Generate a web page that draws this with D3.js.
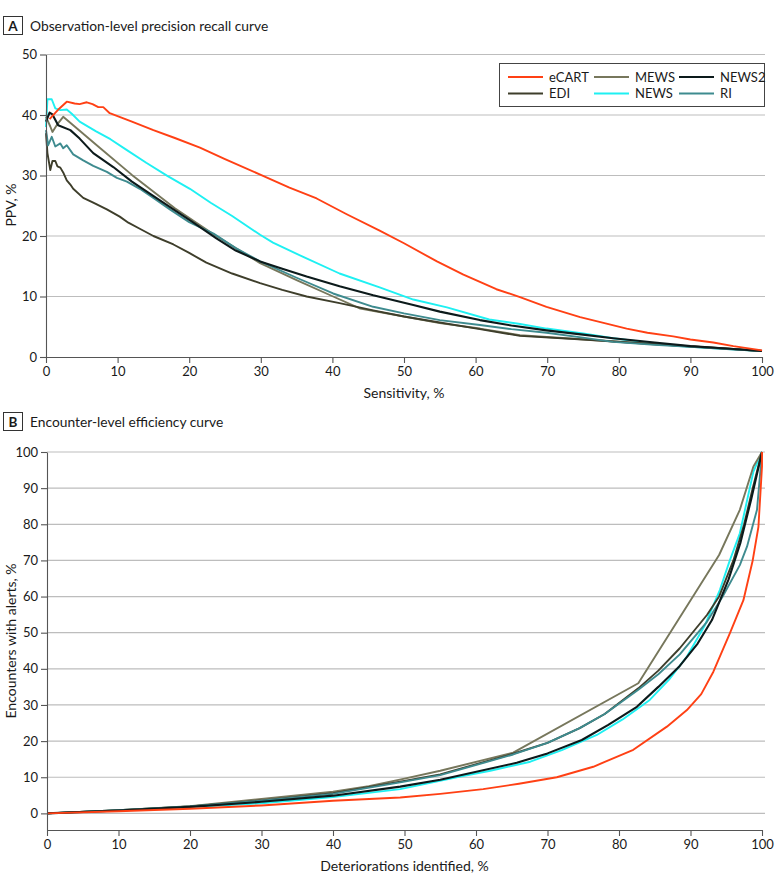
<!DOCTYPE html>
<html>
<head>
<meta charset="utf-8">
<script src="https://d3js.org/d3.v7.min.js"></script>
<style>
  body { margin: 0; background: #fff; }
  svg text { font-family: Lato, "Open Sans", sans-serif; fill: #1a1a1a; }
</style>
</head>
<body>
<div id="chart"></div>
<script>
// Series names, legend order (column-major: eCART/EDI, MEWS/NEWS, NEWS2/RI)
const seriesNames = ['eCART', 'EDI', 'MEWS', 'NEWS', 'NEWS2', 'RI'];
const seriesColors = ['#ff4014', '#3e3e2b', '#77775c', '#1ef0f2', '#0c1a1b', '#3e8b8f'];

// Panel A: [sensitivity %, PPV %]
const ecartA = [[0.5,39.3],[1.8,41],[2.9,42.2],[4,41.9],[4.7,41.8],[5.7,42.1],[6.5,41.8],[7.3,41.3],[8,41.3],[8.9,40.3],
  [12,38.9],[15,37.5],[18,36.2],[21.5,34.6],[25,32.7],[30,30.1],[34,28],[37.8,26.2],[42,23.6],[46.6,20.9],[50,18.8],
  [54.6,15.8],[58.3,13.6],[62.9,11.2],[66.2,9.9],[69.9,8.3],[74.6,6.6],[78,5.6],[81.1,4.7],[84,4],[87.6,3.4],[90,2.9],
  [93.2,2.4],[96,1.8],[100,1.1]];
const ediA = [[0,37],[0.2,33.7],[0.6,30.9],[0.9,32.4],[1.3,32.4],[1.6,31.5],[2,31.3],[2.4,30.5],[2.9,29.2],[3.4,28.5],
  [3.8,27.8],[5.2,26.3],[6.6,25.5],[8.5,24.4],[10.3,23.2],[11.5,22.2],[13.1,21.2],[15,20],[17.8,18.6],[20,17.2],
  [22.4,15.6],[26,13.8],[29.9,12.2],[33,11.1],[36.4,10],[41,8.9],[45.7,7.7],[50,6.7],[55,5.7],[60.6,4.6],[66.2,3.5],
  [75,2.9],[85,2.1],[95,1.4],[100,1.0]];
const mewsA = [[0,39.7],[0.6,38.1],[0.9,37.2],[1.6,38.5],[2.4,39.7],[7.5,34.6],[12,30.1],[18,24.6],[23.4,20.3],
  [29.9,15.5],[35,12.7],[40.1,10],[43.9,8],[50,6.7],[55,5.6],[60.6,4.7],[66.2,3.6],[100,1.0]];
const newsA = [[0,38],[0.2,42.6],[0.8,42.6],[1.3,41.1],[2,40.8],[2.9,40.9],[3.6,40.2],[4.7,38.9],[7,37.3],[9,36],
  [11.3,34.2],[14,32.1],[17,29.9],[20.1,27.8],[23,25.5],[26,23.3],[29.9,20.2],[31.7,18.9],[36,16.5],[41,13.8],
  [46.6,11.5],[51.3,9.5],[56,8.2],[61.9,6.2],[66,5.5],[69.9,4.7],[75,3.9],[79.2,3.1],[84,2.4],[88.5,1.8],[94,1.4],[100,1.0]];
const news2A = [[0,38.9],[0.5,40.4],[0.9,40.1],[1.7,38.3],[3.4,37.5],[4.7,36.1],[6.6,33.7],[9.4,31.4],[12,29],[14.5,27],
  [17.8,24.4],[20.5,22.3],[23.8,19.6],[26.5,17.6],[29.9,15.8],[33,14.6],[36.4,13.3],[41,11.7],[45.7,10.2],[51.3,8.6],
  [55,7.5],[60.6,6.1],[65,5.2],[69.9,4.4],[75,3.7],[79.2,3.1],[85,2.4],[90,1.8],[95,1.4],[100,1.0]];
const riA = [[0,37.5],[0.3,35],[0.8,36.4],[1.3,34.8],[2,35.3],[2.4,34.5],[2.9,35],[3.8,33.5],[5.2,32.5],[6.6,31.6],
  [8.5,30.6],[9.9,29.6],[11.3,29],[13.1,27.8],[15,26.3],[17.3,24.4],[20,22.3],[23.4,20.4],[26.5,18],[29.9,15.8],
  [35,13.1],[40.1,10.5],[45.7,8.3],[50,7.2],[55,6.1],[60.6,5.3],[65,4.6],[69.9,4.0],[75,3.2],[79.2,2.5],[85,2.0],
  [90,1.7],[95,1.3],[100,1.0]];

// Panel B: [deteriorations identified %, encounters with alerts %]
const ecartB = [[0,0],[10,0.6],[20,1.3],[30,2.2],[40,3.5],[49.4,4.4],[55,5.4],[61,6.7],[66,8.2],[71.3,10],[76.4,12.9],
  [82,17.6],[86.7,24],[89.5,28.6],[91.5,33],[93.2,39.2],[95.5,49.8],[97.4,59],[98.7,70],[99.5,79.3],[100,96],[100,100]];
const ediB = [[0,0],[10,0.9],[20,1.9],[30,3.6],[40,5.6],[50,9],[55,10.8],[65.2,16.5],[70,19.5],[74.5,23.6],[78,27.5],
  [82.7,34.6],[85.5,39.5],[88.5,45.7],[92.3,54.9],[94,60],[96,70],[97.5,80],[98.7,90],[100,100]];
const mewsB = [[0,0],[10,0.9],[20,2],[30,4],[40,6],[45,7.5],[50,9.6],[55,11.8],[65.2,16.8],[82.7,36],[94,71.5],
  [96.9,84],[98.8,96],[100,100]];
const newsB = [[0,0],[10,0.8],[20,1.7],[30,2.8],[40,4.5],[49.4,6.7],[57.8,10.2],[62,11.8],[67.6,14.3],[72,17.5],
  [76.9,21.7],[80.5,26],[84.3,31.4],[87,37],[89.5,43.4],[92,52],[94.1,61.8],[95.5,70],[96.9,77.5],[98.8,94.6],[100,100]];
const news2B = [[0,0],[10,0.8],[20,1.8],[30,3.2],[40,4.9],[49.4,7.4],[55,9.3],[65.7,14],[70,16.6],[74.8,20.3],
  [78.5,24.5],[82.5,29.5],[85.5,35],[88.5,40.8],[91,47],[93,53.5],[95.3,64.6],[97,75],[98.5,87],[100,100]];
const riB = [[0,0],[10,0.9],[20,1.9],[30,3.5],[40,5.4],[50,8.8],[55,10.6],[65.2,16.3],[70,19.5],[74.5,23.6],[78,27.5],
  [82.7,34.2],[85.5,38.5],[88.5,44],[92.3,53],[94.5,60],[96.9,68.7],[97.9,73.8],[99.3,84],[100,100]];

const xTicks = [0, 10, 20, 30, 40, 50, 60, 70, 80, 90, 100];
const yTicksA = [0, 10, 20, 30, 40, 50];
const yTicksB = [0, 10, 20, 30, 40, 50, 60, 70, 80, 90, 100];

const seriesA = { eCART: ecartA, EDI: ediA, MEWS: mewsA, NEWS: newsA, NEWS2: news2A, RI: riA };
const seriesB = { eCART: ecartB, EDI: ediB, MEWS: mewsB, NEWS: newsB, NEWS2: news2B, RI: riB };
const drawOrder = ['NEWS', 'MEWS', 'EDI', 'RI', 'NEWS2', 'eCART'];

const color = d3.scaleOrdinal().domain(seriesNames).range(seriesColors);

const width = 780, height = 890;
const svg = d3.select('#chart').append('svg')
  .attr('width', width)
  .attr('height', height);

const panelHeader = (y, letter, title) => {
  svg.append('rect')
    .attr('x', 3.5).attr('y', y - 14.5)
    .attr('width', 19).attr('height', 18)
    .attr('fill', 'none').attr('stroke', '#333').attr('stroke-width', 1);
  svg.append('text')
    .attr('x', 13).attr('y', y)
    .attr('text-anchor', 'middle')
    .attr('font-size', '13.5px').attr('font-weight', 'bold')
    .text(letter);
  svg.append('text')
    .attr('x', 30).attr('y', y)
    .attr('font-size', '13.8px')
    .text(title);
};

const drawPanel = (opts) => {
  const { x, y, yTicks, data, gridFrom, yLabel, xLabel, yLabelY, xAxisY, gridRight } = opts;

  // gridlines
  svg.append('g')
    .selectAll('line')
    .data(yTicks.filter(t => t >= gridFrom))
    .enter()
    .append('line')
    .attr('x1', x(0)).attr('x2', gridRight)
    .attr('y1', d => y(d)).attr('y2', d => y(d))
    .attr('stroke', '#bdbdbd').attr('stroke-width', 1.2);

  // curves
  const line = d3.line().x(d => x(d[0])).y(d => y(d[1]));
  svg.append('g')
    .selectAll('path')
    .data(drawOrder)
    .enter()
    .append('path')
    .attr('d', k => line(data[k]))
    .attr('fill', 'none')
    .attr('stroke', k => color(k))
    .attr('stroke-width', k => k === 'NEWS2' ? 2.1 : 1.9)
    .attr('stroke-linejoin', 'round');

  // axes
  const yAxis = svg.append('g')
    .attr('transform', `translate(${x(0)},0)`)
    .call(d3.axisLeft(y).tickValues(yTicks).tickSize(6).tickSizeOuter(0).tickPadding(3));
  const xAxis = svg.append('g')
    .attr('transform', `translate(0,${xAxisY})`)
    .call(d3.axisBottom(x).tickValues(xTicks).tickSize(6).tickSizeOuter(0).tickPadding(4));
  [yAxis, xAxis].forEach(a => {
    a.selectAll('path,line').attr('stroke', '#555').attr('stroke-width', 1.1);
    a.selectAll('text').attr('font-size', '13px').attr('fill', '#1a1a1a')
      .style('font-family', 'Lato, sans-serif');
  });

  svg.append('text')
    .attr('transform', `translate(16,${yLabelY}) rotate(-90)`)
    .attr('text-anchor', 'middle')
    .attr('font-size', '14px')
    .text(yLabel);
  svg.append('text')
    .attr('x', (x(0) + x(100)) / 2).attr('y', xAxisY + 41)
    .attr('text-anchor', 'middle')
    .attr('font-size', '14px')
    .text(xLabel);
};

// Panel A
panelHeader(31, 'A', 'Observation-level precision recall curve');
const xA = d3.scaleLinear().domain([0, 100]).range([46, 762]);
const yA = d3.scaleLinear().domain([0, 50]).range([357, 54.5]);
drawPanel({
  x: xA, y: yA, yTicks: yTicksA, data: seriesA, gridFrom: 10,
  yLabel: 'PPV, %', xLabel: 'Sensitivity, %', yLabelY: 205, xAxisY: 357, gridRight: 765
});

// Legend
const legend = svg.append('g').attr('transform', 'translate(499.5,63.5)');
legend.append('rect')
  .attr('width', 265).attr('height', 43)
  .attr('fill', '#fff').attr('stroke', '#444').attr('stroke-width', 1);
const legendItems = legend.selectAll('.legend-item')
  .data(seriesNames)
  .enter()
  .append('g')
  .attr('class', 'legend-item')
  .attr('transform', (d, i) => `translate(${[8.5, 94.5, 179.5][Math.floor(i / 2)]},${i % 2 === 0 ? 13.5 : 30})`);
legendItems.append('line')
  .attr('x1', 0).attr('x2', 35)
  .attr('stroke', d => color(d)).attr('stroke-width', 2);
legendItems.append('text')
  .attr('x', 41).attr('y', 4.5)
  .attr('font-size', '13px')
  .text(d => d);

// Panel B
panelHeader(427, 'B', 'Encounter-level efficiency curve');
const xB = d3.scaleLinear().domain([0, 100]).range([47, 762]);
const yB = d3.scaleLinear().domain([-4.6, 100]).range([830, 452]);
drawPanel({
  x: xB, y: yB, yTicks: yTicksB, data: seriesB, gridFrom: 0,
  yLabel: 'Encounters with alerts, %', xLabel: 'Deteriorations identified, %', yLabelY: 641, xAxisY: 830, gridRight: 765
});
</script>
</body>
</html>
